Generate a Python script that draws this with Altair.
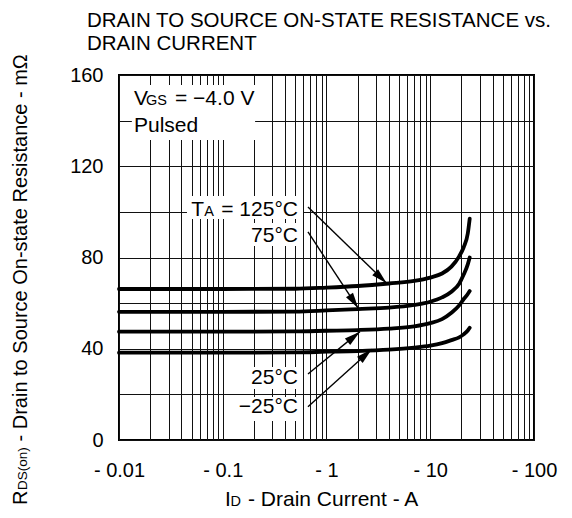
import math
import altair as alt
import pandas as pd

FONT = "Liberation Sans"

# ---------------- data ----------------
current_a = [0.01, 0.1, 0.5, 1, 2, 4, 7, 10, 13, 16, 19, 21, 23, 24]
r_125 = [66.2, 66.2, 66.3, 66.8, 67.5, 68.6, 69.7, 71.2, 73.0, 76.0, 80.5, 84.5, 90.5, 97.0]
r_75 = [56.2, 56.2, 56.3, 56.8, 57.4, 58.0, 59.2, 60.6, 62.5, 65.0, 68.5, 72.5, 77.0, 80.0]
r_25 = [47.5, 47.5, 47.6, 47.9, 48.2, 48.8, 49.8, 51.2, 53.0, 55.8, 59.0, 61.8, 64.0, 65.3]
r_m25 = [38.3, 38.3, 38.4, 38.7, 39.0, 39.6, 40.5, 41.4, 42.5, 43.8, 45.0, 46.3, 48.0, 49.2]
series_names = ["125°C", "75°C", "25°C", "−25°C"]
series_values = [r_125, r_75, r_25, r_m25]

x_major = [0.01, 0.1, 1, 10, 100]
x_tick_labels = ["- 0.01", "- 0.1", "- 1", "- 10", "- 100"]
x_grid = [m * 10.0 ** k for k in range(-2, 2) for m in range(1, 10)] + [100]
y_grid = [0, 20, 40, 60, 80, 100, 120, 140, 160]
y_labelled = [0, 40, 80, 120, 160]

title_lines = ["DRAIN TO SOURCE ON-STATE RESISTANCE vs.", "DRAIN CURRENT"]

# annotation arrows (data units)
arrow_start_x = [0.663, 0.663, 0.663, 0.663]
arrow_start_y = [102.1, 91.2, 28.9, 14.6]
arrow_tip_x = [3.80, 2.025, 2.10, 2.73]
arrow_tip_y = [68.7, 57.7, 47.5, 39.8]

# white label boxes (data units)
box_x1 = [0.0133, 0.0452, 0.1914, 0.1831, 0.1466]
box_x2 = [0.205, 0.5935, 0.5935, 0.5806, 0.5806]
box_y1 = [131.5, 96.9, 85.0, 22.4, 8.3]
box_y2 = [155.6, 107.0, 95.1, 32.0, 18.8]

W, H = 415, 365
X_DOM = [0.01, 100]
Y_DOM = [0, 160]

x_scale = alt.Scale(type="log", domain=X_DOM, nice=False)
y_scale = alt.Scale(domain=Y_DOM, nice=False, zero=False)

# ---------------- tables ----------------
rows = []
for name, vals in zip(series_names, series_values):
    for i, r in zip(current_a, vals):
        rows.append({"series": name, "x": i, "y": r})
curves_df = pd.DataFrame(rows)


def to_px(x, y):
    return ((math.log10(x) - math.log10(X_DOM[0])) / (math.log10(X_DOM[1]) - math.log10(X_DOM[0])) * W,
            H - (y - Y_DOM[0]) / (Y_DOM[1] - Y_DOM[0]) * H)


arrow_rows = []
head_rows = []
for k in range(len(arrow_start_x)):
    arrow_rows.append({"a": k, "o": 0, "x": arrow_start_x[k], "y": arrow_start_y[k]})
    arrow_rows.append({"a": k, "o": 1, "x": arrow_tip_x[k], "y": arrow_tip_y[k]})
    sx, sy = to_px(arrow_start_x[k], arrow_start_y[k])
    tx, ty = to_px(arrow_tip_x[k], arrow_tip_y[k])
    ang = math.degrees(math.atan2(tx - sx, -(ty - sy))) % 360
    head_rows.append({"x": arrow_tip_x[k], "y": arrow_tip_y[k], "angle": ang})
arrows_df = pd.DataFrame(arrow_rows)
heads_df = pd.DataFrame(head_rows)
boxes_df = pd.DataFrame({"x": box_x1, "x2": box_x2, "y": box_y1, "y2": box_y2})

# label expressions built from the tick lists
x_expr = "''"
for v, lab in reversed(list(zip(x_major, x_tick_labels))):
    x_expr = f"abs(datum.value - {v}) < {v * 1e-6} ? '{lab}' : ({x_expr})"
y_expr = " || ".join(f"datum.value == {v}" for v in y_labelled)
y_expr = f"({y_expr}) ? datum.label : ''"

GRID = "#111"
x_axis = alt.Axis(values=x_grid, labelExpr=x_expr, grid=True, ticks=False, domain=False,
                  labelFont=FONT, labelFontSize=20, labelColor="black", labelPadding=20,
                  labelOverlap=False, labelFlush=False, title="",
                  gridColor=GRID, gridWidth=1, gridOpacity=1)
y_axis = alt.Axis(values=y_grid, labelExpr=y_expr, grid=True, ticks=False, domain=False,
                  labelFont=FONT, labelFontSize=20, labelColor="black", labelPadding=16,
                  labelOverlap=False, title="",
                  gridColor=GRID, gridWidth=1, gridOpacity=1)

X = lambda: alt.X("x:Q", scale=x_scale, axis=x_axis)
Y = lambda: alt.Y("y:Q", scale=y_scale, axis=y_axis)

# ---------------- layers ----------------
boxes = alt.Chart(boxes_df).mark_rect(color="white", opacity=1).encode(
    x=X(), x2="x2:Q", y=Y(), y2="y2:Q"
)

curves = alt.Chart(curves_df).mark_line(
    color="black", strokeWidth=3.8, interpolate="monotone", strokeCap="round"
).encode(x=X(), y=Y(), detail="series:N")

arrow_lines = alt.Chart(arrows_df).mark_line(color="black", strokeWidth=1.4).encode(
    x=X(), y=Y(), detail="a:N", order="o:Q"
)

heads = alt.Chart(heads_df).mark_point(
    shape="M0,0L-0.42,1.6L0.42,1.6Z", filled=True, color="black", opacity=1, size=400, strokeWidth=0
).encode(x=X(), y=Y(), angle=alt.Angle("angle:Q", scale=None))


def data_text(text, x, y, size=21, align="left", dx=0):
    return alt.Chart(pd.DataFrame({"t": [text], "x": [x], "y": [y]})).mark_text(
        font=FONT, fontSize=size, align=align, baseline="alphabetic", color="black", dx=dx
    ).encode(x=X(), y=Y(), text="t:N")


def px_text(text, x, y, size=21, align="left", angle=0):
    return alt.Chart(pd.DataFrame({"t": [text]})).mark_text(
        font=FONT, fontSize=size, align=align, baseline="alphabetic", color="black", angle=angle
    ).encode(x=alt.value(x), y=alt.value(y), text="t:N")


labels = [
    data_text("V", 0.01395, 146.9),
    data_text("GS", 0.01395, 146.9, size=14.5, dx=12),
    data_text("= −4.0 V", 0.01395, 146.9, dx=41),
    data_text("Pulsed", 0.01395, 135.2),
    data_text("= " + series_names[0], 0.531, 98.2, align="right"),
    data_text("A", 0.531, 98.2, size=14.5, align="right", dx=-84),
    data_text("T", 0.531, 98.2, align="right", dx=-94),
    data_text(series_names[1], 0.531, 86.9, align="right"),
    data_text(series_names[2], 0.531, 24.4, align="right"),
    data_text(series_names[3], 0.531, 11.7, align="right"),
]

texts = [
    px_text(title_lines[0], -32, -48, size=20.5),
    px_text(title_lines[1], -32, -25, size=20.5),
    # x axis title
    px_text("I", 106, 431),
    px_text("D", 111.5, 431, size=14.5),
    px_text("- Drain Current - A", 129, 431),
    # y axis title (rotated)
    px_text("R", -92, 430, size=20, angle=270),
    px_text("DS(on)", -92, 415, size=13.5, angle=270),
    px_text("- Drain to Source On-state Resistance - mΩ", -92, 366.5, size=20, angle=270),
]

chart = alt.layer(boxes, curves, arrow_lines, heads, *labels, *texts).properties(
    width=W,
    height=H,
    autosize=alt.AutoSizeParams(type="none"),
    padding={"left": 111, "top": 67, "right": 30, "bottom": 70},
).configure(background="white").configure_view(stroke="black", strokeWidth=2)

chart.save("out.html", embed_options={"renderer": "svg", "actions": False})
